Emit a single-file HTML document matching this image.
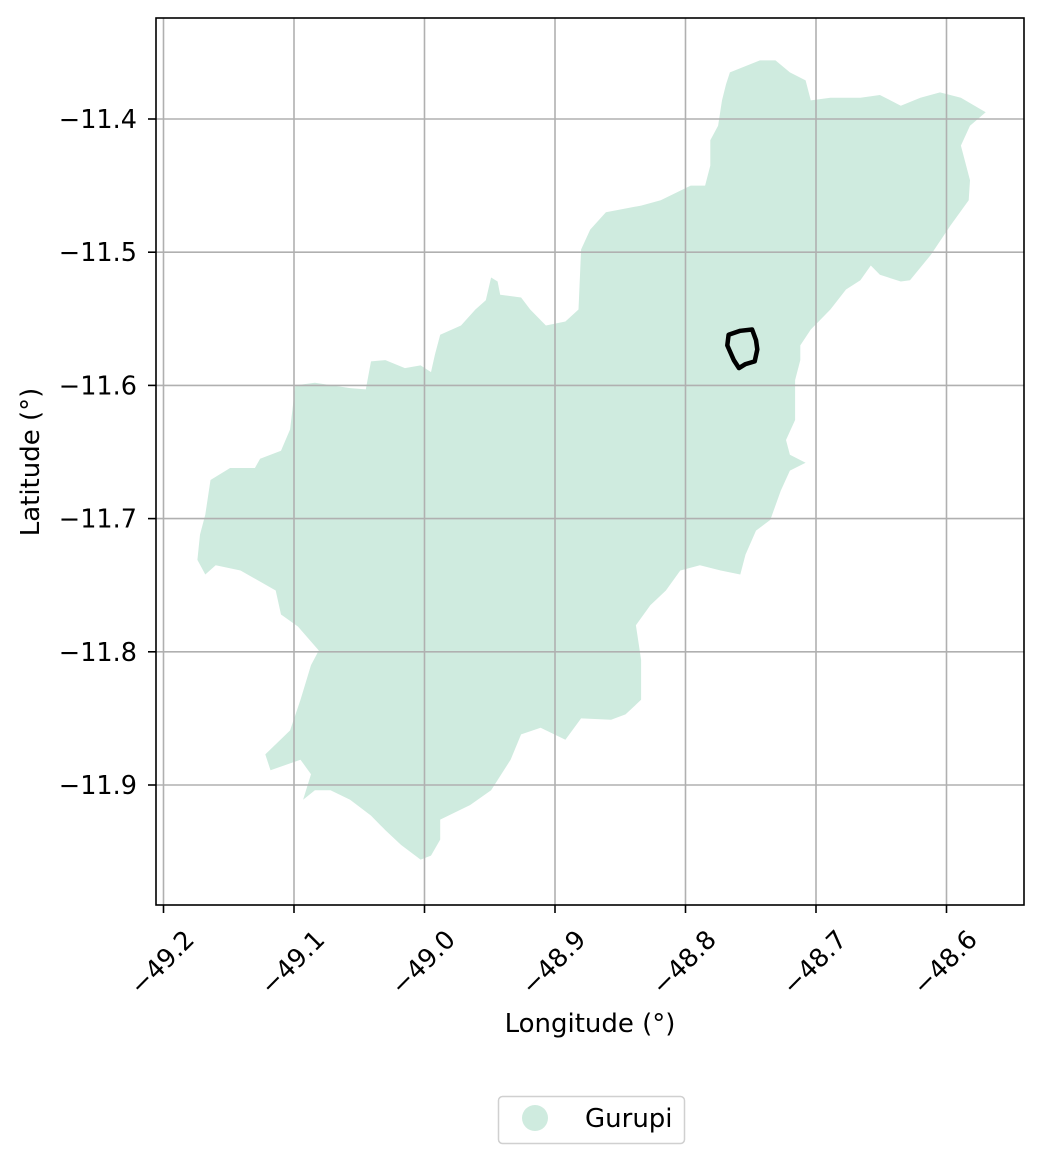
<!DOCTYPE html>
<html><head><meta charset="utf-8"><style>
html,body{margin:0;padding:0;background:#fff;}
svg{display:block;font-family:"DejaVu Sans","Liberation Sans",sans-serif;}
</style></head><body>
<svg id="chart" width="1044" height="1163" viewBox="0 0 1044 1163">
<rect width="1044" height="1163" fill="#fff"/>
<g id="plot"></g>
</svg>
<script>
const xTicks=[-49.2,-49.1,-49.0,-48.9,-48.8,-48.7,-48.6];
const xTickLabels=["\u221249.2","\u221249.1","\u221249.0","\u221248.9","\u221248.8","\u221248.7","\u221248.6"];
const yTicks=[-11.4,-11.5,-11.6,-11.7,-11.8,-11.9];
const yTickLabels=["\u221211.4","\u221211.5","\u221211.6","\u221211.7","\u221211.8","\u221211.9"];
const regionLon=[-48.766,-48.743,-48.731,-48.720,-48.708,-48.704,-48.689,-48.666,-48.651,-48.635,-48.620,-48.605,-48.589,-48.570,-48.582,-48.589,-48.582,-48.583,-48.597,-48.612,-48.628,-48.635,-48.651,-48.658,-48.666,-48.677,-48.689,-48.704,-48.712,-48.712,-48.716,-48.716,-48.723,-48.720,-48.708,-48.720,-48.727,-48.735,-48.746,-48.754,-48.758,-48.773,-48.789,-48.804,-48.815,-48.827,-48.838,-48.834,-48.834,-48.846,-48.857,-48.880,-48.892,-48.911,-48.926,-48.934,-48.949,-48.965,-48.988,-48.988,-48.995,-49.003,-49.018,-49.030,-49.041,-49.057,-49.072,-49.084,-49.093,-49.087,-49.095,-49.118,-49.122,-49.103,-49.095,-49.087,-49.081,-49.097,-49.110,-49.114,-49.141,-49.160,-49.168,-49.174,-49.172,-49.168,-49.164,-49.149,-49.130,-49.126,-49.110,-49.103,-49.099,-49.084,-49.057,-49.045,-49.041,-49.030,-49.015,-49.003,-48.995,-48.992,-48.988,-48.972,-48.961,-48.953,-48.949,-48.944,-48.942,-48.926,-48.919,-48.907,-48.892,-48.882,-48.880,-48.873,-48.861,-48.834,-48.819,-48.796,-48.785,-48.781,-48.781,-48.775,-48.772,-48.769];
const regionLat=[-11.365,-11.356,-11.356,-11.365,-11.371,-11.386,-11.384,-11.384,-11.382,-11.390,-11.384,-11.380,-11.384,-11.395,-11.405,-11.420,-11.446,-11.461,-11.480,-11.502,-11.521,-11.522,-11.517,-11.510,-11.521,-11.528,-11.543,-11.558,-11.570,-11.581,-11.596,-11.626,-11.641,-11.652,-11.658,-11.664,-11.679,-11.701,-11.709,-11.727,-11.742,-11.739,-11.735,-11.739,-11.754,-11.765,-11.780,-11.806,-11.836,-11.847,-11.851,-11.850,-11.866,-11.857,-11.862,-11.881,-11.904,-11.915,-11.926,-11.941,-11.953,-11.956,-11.945,-11.934,-11.923,-11.911,-11.904,-11.904,-11.911,-11.892,-11.881,-11.889,-11.877,-11.859,-11.836,-11.810,-11.799,-11.781,-11.772,-11.754,-11.739,-11.735,-11.742,-11.731,-11.712,-11.697,-11.671,-11.662,-11.662,-11.655,-11.649,-11.633,-11.600,-11.598,-11.602,-11.603,-11.582,-11.581,-11.587,-11.585,-11.590,-11.577,-11.562,-11.555,-11.543,-11.536,-11.519,-11.522,-11.532,-11.534,-11.543,-11.555,-11.552,-11.543,-11.498,-11.483,-11.470,-11.465,-11.461,-11.450,-11.450,-11.435,-11.416,-11.405,-11.386,-11.374];
const siteLon=[-48.767,-48.758,-48.749,-48.746,-48.745,-48.747,-48.754,-48.759,-48.763,-48.768];
const siteLat=[-11.562,-11.559,-11.558,-11.566,-11.573,-11.582,-11.584,-11.587,-11.581,-11.570];

const L=156,R=1024,T=18,B=905;
const sx=v=>163.5+(v+49.2)*1305;
const sy=v=>119-(v+11.4)*1332;
const NS="http://www.w3.org/2000/svg";
const g=document.getElementById('plot');
function mk(tag,attrs,parent){const e=document.createElementNS(NS,tag);for(const k in attrs)e.setAttribute(k,attrs[k]);(parent||g).appendChild(e);return e;}

const poly=mk('polygon',{points:regionLon.map((v,i)=>sx(v).toFixed(1)+','+sy(regionLat[i]).toFixed(1)).join(' '),fill:'#cfebdf'});



xTicks.forEach((v,i)=>{
  const x=sx(v);
  const gl=mk('line',{x1:x,x2:x,y1:T,y2:B,stroke:'#b0b0b0','stroke-width':1.6});
  
  
  const tk=mk('line',{x1:x,x2:x,y1:B,y2:B+8,stroke:'#000','stroke-width':1.6});
  
  
  const t=mk('text',{x:x-1,y:963,'font-size':25.5,'text-anchor':'middle','dominant-baseline':'central',transform:`rotate(-45 ${x-1} 963)`});
  t.textContent=xTickLabels[i];
  
  
});
yTicks.forEach((v,i)=>{
  const y=sy(v);
  const gl=mk('line',{x1:L,x2:R,y1:y,y2:y,stroke:'#b0b0b0','stroke-width':1.6});
  
  
  const tk=mk('line',{x1:L-8,x2:L,y1:y,y2:y,stroke:'#000','stroke-width':1.6});
  
  
  const t=mk('text',{x:137,y:y+9,'font-size':25.5,'text-anchor':'end'});
  t.textContent=yTickLabels[i];
  
  
});

const site=mk('polygon',{points:siteLon.map((v,i)=>sx(v).toFixed(1)+','+sy(siteLat[i]).toFixed(1)).join(' '),fill:'none',stroke:'#000','stroke-width':4.5,'stroke-linejoin':'round'});



const fr=mk('rect',{x:L,y:T,width:R-L,height:B-T,fill:'none',stroke:'#000','stroke-width':1.6});



const xl=mk('text',{x:590,y:1032,'font-size':26,'text-anchor':'middle'});
xl.textContent='Longitude (°)';


const yl=mk('text',{x:39,y:462,'font-size':26,'text-anchor':'middle',transform:'rotate(-90 39 462)'});
yl.textContent='Latitude (°)';



const lg=mk('g',{});


mk('rect',{x:498.5,y:1096.5,width:186,height:47,rx:4,fill:'#fff',stroke:'#d0d0d0','stroke-width':1.5},lg);
const dot=mk('circle',{cx:535,cy:1118,r:13,fill:'#cfebdf'},lg);


const lt=mk('text',{x:585,y:1127,'font-size':26},lg);
lt.textContent='Gurupi';


</script>
</body></html>
